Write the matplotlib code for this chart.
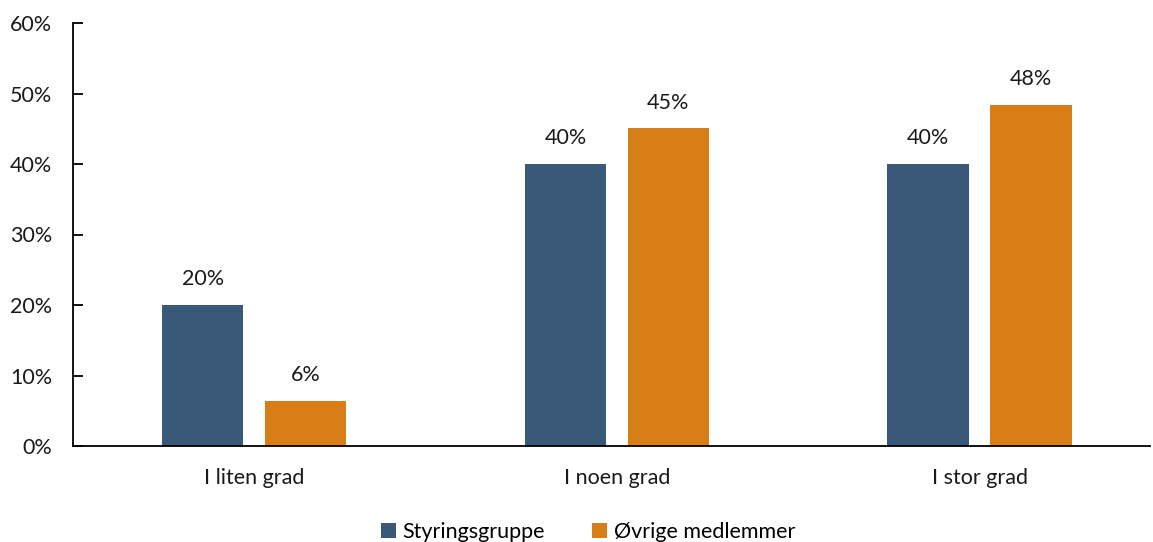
import matplotlib.pyplot as plt
import numpy as np

# chart data
categories = ['I liten grad', 'I noen grad', 'I stor grad']
styring = [20.0, 40.0, 40.0]
ovrige = [6.4, 45.1, 48.4]
styring_labels = ['20%', '40%', '40%']
ovrige_labels = ['6%', '45%', '48%']

blue = '#3A5878'
orange = '#D87E17'

plt.rcParams['font.family'] = ['Lato', 'DejaVu Sans']
fs = 15.5

fig = plt.figure(figsize=(11.53, 5.42), dpi=100)
ax = fig.add_axes([73 / 1153, 1 - 446 / 542, (1150 - 73) / 1153, (446 - 23) / 542])

x = np.arange(len(categories))
w = 0.224
off = 0.142
b1 = ax.bar(x - off, styring, w, color=blue, label='Styringsgruppe')
b2 = ax.bar(x + off, ovrige, w, color=orange, label='Øvrige medlemmer')

for bars, labels in [(b1, styring_labels), (b2, ovrige_labels)]:
    for rect, lab in zip(bars, labels):
        ax.text(rect.get_x() + rect.get_width() / 2, rect.get_height() + 2.2, lab,
                ha='center', va='bottom', fontsize=fs, color='#1a1a1a')

ax.set_xlim(-0.5, 2.47)
ax.set_ylim(0, 60)
ax.set_yticks(range(0, 61, 10))
ax.set_yticklabels([f'{v}%' for v in range(0, 61, 10)])
ax.set_xticks(x)
ax.set_xticklabels(categories)

for s in ['top', 'right']:
    ax.spines[s].set_visible(False)
ax.spines['left'].set_linewidth(1.3)
ax.spines['bottom'].set_linewidth(1.3)
ax.tick_params(axis='y', direction='in', length=7, width=1.3, labelsize=fs, pad=15,
               labelcolor='#1a1a1a')
ax.tick_params(axis='x', length=0, labelsize=fs, pad=16, labelcolor='#1a1a1a')

fig.legend(loc='lower center', bbox_to_anchor=(0.51, -0.035), ncol=2, frameon=False,
           fontsize=fs, handlelength=0.7, handleheight=0.7, handletextpad=0.3,
           columnspacing=2.2)

fig.savefig('out.png', dpi=100)
